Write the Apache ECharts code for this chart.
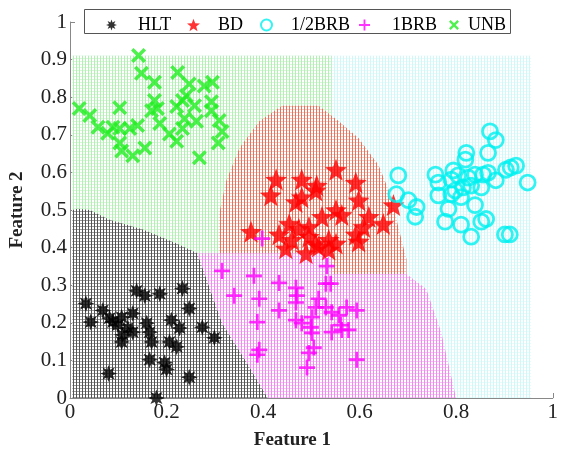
<!DOCTYPE html>
<html><head><meta charset="utf-8">
<script src="https://cdn.jsdelivr.net/npm/echarts@6/dist/echarts.min.js"></script>
<style>html,body{margin:0;padding:0;background:#fff}#c{width:561px;height:455px}</style>
</head><body><div id="c"></div>
<script>
// ---- data ----
const seriesNames = ['HLT', 'BD', '1/2BRB', '1BRB', 'UNB'];
const hlt = [[0.033,0.251],[0.043,0.202],[0.068,0.233],[0.082,0.212],[0.089,0.202],[0.107,0.215],[0.109,0.168],[0.107,0.149],[0.120,0.186],[0.130,0.225],[0.138,0.285],[0.155,0.272],[0.159,0.199],[0.165,0.175],[0.169,0.149],[0.165,0.102],[0.186,0.277],[0.196,0.094],[0.200,0.076],[0.206,0.149],[0.221,0.136],[0.210,0.207],[0.227,0.186],[0.233,0.291],[0.247,0.238],[0.274,0.188],[0.299,0.160],[0.080,0.065],[0.247,0.055],[0.179,0.0],[0.130,0.175],[0.099,0.194]];
const bd = [[0.551,0.607],[0.592,0.573],[0.598,0.526],[0.427,0.581],[0.480,0.581],[0.511,0.565],[0.416,0.539],[0.468,0.521],[0.480,0.534],[0.509,0.552],[0.551,0.500],[0.563,0.487],[0.522,0.482],[0.454,0.463],[0.495,0.455],[0.474,0.450],[0.619,0.482],[0.649,0.463],[0.670,0.513],[0.608,0.455],[0.592,0.435],[0.598,0.416],[0.375,0.442],[0.433,0.435],[0.460,0.421],[0.447,0.398],[0.489,0.385],[0.509,0.411],[0.536,0.421],[0.536,0.395],[0.515,0.403],[0.495,0.429],[0.551,0.411]];
const halfBrb = [[0.870,0.709],[0.882,0.686],[0.866,0.652],[0.821,0.652],[0.819,0.634],[0.680,0.592],[0.757,0.594],[0.763,0.573],[0.794,0.605],[0.804,0.592],[0.790,0.581],[0.825,0.586],[0.839,0.594],[0.856,0.594],[0.866,0.599],[0.882,0.579],[0.903,0.607],[0.913,0.613],[0.924,0.618],[0.948,0.573],[0.852,0.560],[0.831,0.565],[0.814,0.560],[0.798,0.552],[0.763,0.539],[0.790,0.542],[0.810,0.534],[0.676,0.542],[0.701,0.526],[0.718,0.508],[0.715,0.482],[0.784,0.503],[0.839,0.513],[0.777,0.469],[0.810,0.461],[0.831,0.429],[0.852,0.469],[0.862,0.476],[0.901,0.435],[0.911,0.435]];
const oneBrb = [[0.315,0.338],[0.381,0.325],[0.340,0.272],[0.392,0.264],[0.433,0.306],[0.468,0.293],[0.470,0.272],[0.468,0.254],[0.433,0.233],[0.532,0.351],[0.530,0.304],[0.540,0.304],[0.515,0.264],[0.509,0.241],[0.530,0.241],[0.542,0.228],[0.557,0.220],[0.573,0.241],[0.594,0.233],[0.468,0.207],[0.480,0.199],[0.501,0.215],[0.499,0.188],[0.501,0.173],[0.542,0.175],[0.561,0.194],[0.563,0.181],[0.577,0.181],[0.388,0.202],[0.392,0.128],[0.388,0.115],[0.505,0.134],[0.495,0.120],[0.491,0.081],[0.594,0.102],[0.398,0.424]];
const unb = [[0.019,0.770],[0.041,0.751],[0.058,0.720],[0.078,0.704],[0.089,0.720],[0.103,0.772],[0.103,0.717],[0.124,0.717],[0.103,0.678],[0.107,0.657],[0.130,0.644],[0.140,0.725],[0.155,0.665],[0.142,0.911],[0.148,0.864],[0.175,0.840],[0.175,0.791],[0.169,0.764],[0.181,0.770],[0.186,0.730],[0.206,0.702],[0.221,0.683],[0.223,0.866],[0.221,0.775],[0.233,0.791],[0.247,0.835],[0.241,0.804],[0.237,0.743],[0.233,0.717],[0.258,0.777],[0.262,0.736],[0.268,0.639],[0.278,0.830],[0.295,0.840],[0.293,0.788],[0.293,0.764],[0.309,0.738],[0.315,0.709],[0.307,0.678]];
// decision regions (polygon vertices in data units)
const regionCyan = [[0.005,0],[0.955,0],[0.955,0.91],[0.005,0.91]];
const regionGreen = [[0.005,0.91],[0.542,0.91],[0.542,0.74],[0.45,0.5],[0.35,0.36],[0.005,0.36]];
const regionGray = [[0.005,0],[0.005,0.5],[0.016,0.503],[0.041,0.5],[0.082,0.474],[0.151,0.448],[0.221,0.411],[0.264,0.385],[0.315,0.2],[0.365,0.097],[0.41,0]];
const regionRed = [[0.309,0.33],[0.309,0.49],[0.324,0.579],[0.351,0.665],[0.392,0.736],[0.439,0.777],[0.515,0.777],[0.557,0.736],[0.598,0.691],[0.639,0.620],[0.666,0.534],[0.680,0.455],[0.697,0.369],[0.697,0.33]];
const regionPink = [[0.264,0.385],[0.542,0.385],[0.542,0.33],[0.697,0.33],[0.738,0.29],[0.769,0.175],[0.798,0.01],[0.8,0],[0.41,0],[0.365,0.097],[0.315,0.2]];
const xTickInterval = 0.2, yTickInterval = 0.1;

// ---- styling helpers ----
function pattern(color, alpha) {
  const c = document.createElement('canvas'); c.width = 3; c.height = 3;
  const g = c.getContext('2d');
  g.fillStyle = '#fff'; g.fillRect(0,0,3,3);
  g.fillStyle = color; g.fillRect(1,0,1,3);
  g.globalAlpha = alpha; g.fillRect(0,1,3,1);
  return {image: c, repeat: 'repeat'};
}
function starPath(n, rIn, rOut) {
  let p = '';
  for (let k = 0; k < 2*n; k++) {
    const a = k*Math.PI/n - Math.PI/2, r = k%2 ? rIn : rOut;
    p += (k ? 'L' : 'M') + (r*Math.cos(a)).toFixed(4) + ',' + (r*Math.sin(a)).toFixed(4);
  }
  return 'path://' + p + 'Z';
}
function crossPath(t, rot) {
  const pts = [[-1,-t],[-t,-t],[-t,-1],[t,-1],[t,-t],[1,-t],[1,t],[t,t],[t,1],[-t,1],[-t,t],[-1,t]];
  const c = Math.cos(rot), s = Math.sin(rot);
  return 'path://' + pts.map((q,i)=>(i?'L':'M')+(q[0]*c-q[1]*s).toFixed(4)+','+(q[0]*s+q[1]*c).toFixed(4)).join('') + 'Z';
}
const asterisk = starPath(8, 0.5, 1);
const star5 = starPath(5, 0.42, 1);
const plus = crossPath(0.17, 0);
const xMark = crossPath(0.2, Math.PI/4);

const regions = [
  {pts: regionCyan, fill: pattern('#d0f8f8', 0.5)},
  {pts: regionGreen, fill: pattern('#b2efb2', 0.5)},
  {pts: regionGray, fill: pattern('#555555', 0.6)},
  {pts: regionRed, fill: pattern('#e6735c', 0.4)},
  {pts: regionPink, fill: pattern('#f08cf0', 0.55)}
];

const serif = 'Liberation Serif, Times New Roman, serif';
const chart = echarts.init(document.getElementById('c'), null, {renderer: 'canvas'});

function legendItem(name, left, pad, w, h) {
  return {data: [name], left: left, top: 11, itemWidth: w, itemHeight: h, z: 10, selectedMode: false,
    textStyle: {fontFamily: serif, fontSize: 18, color: '#000', padding: [0,0,0,pad]}};
}

chart.setOption({
  animation: false,
  grid: {left: 70, right: 4, top: 22, bottom: 51},
  graphic: [{type: 'rect', left: 84, top: 9, z: 5, shape: {width: 426, height: 24},
    style: {fill: '#fff', stroke: '#555', lineWidth: 1}}],
  legend: [
    legendItem('HLT', 101, 16, 11, 11),
    legendItem('BD', 182, 13, 13, 13),
    legendItem('1/2BRB', 255, 14, 11, 11),
    legendItem('1BRB', 354, 17, 11, 11),
    legendItem('UNB', 444, 4, 10, 10)
  ],
  xAxis: {type: 'value', min: 0, max: 1, interval: xTickInterval,
    name: 'Feature 1', nameLocation: 'middle', nameGap: 33,
    nameTextStyle: {fontFamily: serif, fontSize: 19, fontWeight: 'bold', color: '#222', padding: [0,38,0,0]},
    axisLine: {lineStyle: {color: '#888'}}, axisTick: {inside: true, length: 5, lineStyle: {color: '#888'}},
    splitLine: {show: false},
    axisLabel: {fontFamily: serif, fontSize: 21, color: '#222', margin: 4}},
  yAxis: {type: 'value', min: 0, max: 1, interval: yTickInterval,
    name: 'Feature 2', nameLocation: 'middle', nameGap: 43,
    nameTextStyle: {fontFamily: serif, fontSize: 19, fontWeight: 'bold', color: '#222'},
    axisLine: {show: true, lineStyle: {color: '#888'}}, axisTick: {show: true, inside: true, length: 5, lineStyle: {color: '#888'}},
    splitLine: {show: false},
    axisLabel: {fontFamily: serif, fontSize: 21, color: '#222', margin: 3}},
  series: [
    {type: 'custom', silent: true, z: 1, data: regions.map((r,i)=>[i]),
      renderItem: function (params, api) {
        const r = regions[params.dataIndex];
        return {type: 'polygon', shape: {points: r.pts.map(p => api.coord(p))}, style: {fill: r.fill}};
      }},
    {name: 'HLT', type: 'scatter', z: 3, data: hlt, symbol: asterisk, symbolSize: 17, itemStyle: {color: '#000'}},
    {name: 'BD', type: 'scatter', z: 3, data: bd, symbol: star5, symbolSize: 22, itemStyle: {color: '#ff0000'}},
    {name: '1/2BRB', type: 'scatter', z: 3, data: halfBrb, symbol: 'circle', symbolSize: 15,
      itemStyle: {color: 'rgba(0,0,0,0)', borderColor: '#00f0f0', borderWidth: 2.8}},
    {name: '1BRB', type: 'scatter', z: 3, data: oneBrb, symbol: plus, symbolSize: 16, itemStyle: {color: '#ff00ff'}},
    {name: 'UNB', type: 'scatter', z: 3, data: unb, symbol: xMark, symbolSize: 15, itemStyle: {color: '#22ee22'}}
  ]
});
</script></body></html>
